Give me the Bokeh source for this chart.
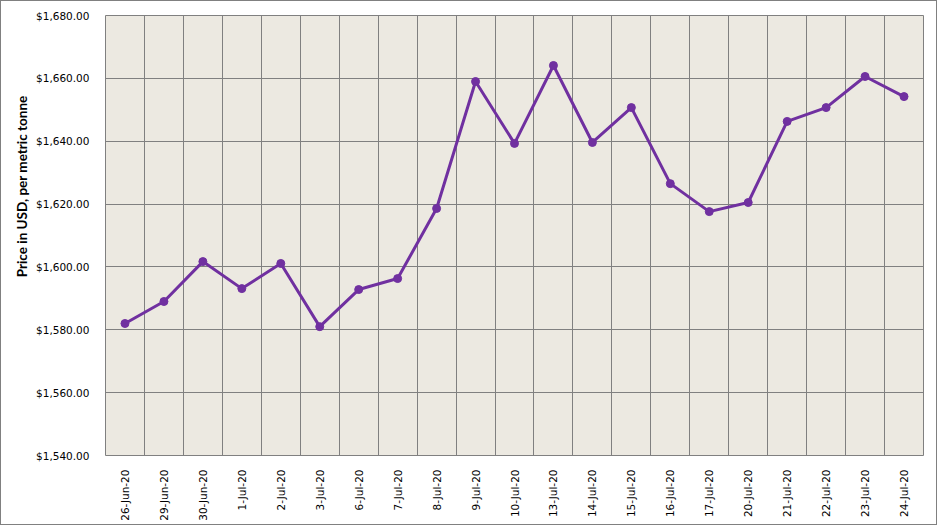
import math
from bokeh.plotting import figure
from bokeh.models import FixedTicker, NumeralTickFormatter, Range1d, Grid, Title
from bokeh.embed import file_html
from bokeh.resources import INLINE

dates = ["26-Jun-20", "29-Jun-20", "30-Jun-20", "1-Jul-20", "2-Jul-20", "3-Jul-20",
         "6-Jul-20", "7-Jul-20", "8-Jul-20", "9-Jul-20", "10-Jul-20", "13-Jul-20",
         "14-Jul-20", "15-Jul-20", "16-Jul-20", "17-Jul-20", "20-Jul-20", "21-Jul-20",
         "22-Jul-20", "23-Jul-20", "24-Jul-20"]
prices = [1582.0, 1589.0, 1601.7, 1593.1, 1601.1, 1581.0, 1592.8, 1596.3, 1618.6,
          1659.0, 1639.3, 1664.1, 1639.6, 1650.7, 1626.5, 1617.6, 1620.5, 1646.3,
          1650.7, 1660.6, 1654.2]
y_ticks = [1540, 1560, 1580, 1600, 1620, 1640, 1660, 1680]

n = len(dates)
xs = [i + 0.5 for i in range(n)]

p = figure(width=937, height=525, output_backend="svg", toolbar_location=None,
           x_range=Range1d(0, n), y_range=Range1d(1540, 1680),
           min_border_left=104, min_border_right=15, min_border_top=14, min_border_bottom=71)
p.styles = {"border": "1px solid #808080"}
p.background_fill_color = "#ECE9E1"
p.border_fill_color = "white"
p.outline_line_color = "#808080"
p.outline_line_width = 1

# axes
p.xaxis.ticker = FixedTicker(ticks=xs)
p.xaxis.major_label_overrides = {x: d for x, d in zip(xs, dates)}
p.xaxis.major_label_orientation = math.pi / 2
p.xaxis.axis_line_color = None
p.xaxis.major_tick_line_color = None
p.xaxis.minor_tick_line_color = None
p.xaxis.major_label_text_font = "DejaVu Sans"
p.xaxis.major_label_text_font_size = "10.5px"
p.xaxis.major_label_text_color = "#000000"
p.xaxis.major_label_standoff = 8

p.yaxis.ticker = FixedTicker(ticks=y_ticks)
p.yaxis.formatter = NumeralTickFormatter(format="$0,0.00")
p.yaxis.axis_line_color = None
p.yaxis.major_tick_line_color = None
p.yaxis.minor_tick_line_color = None
p.yaxis.major_label_text_font = "DejaVu Sans"
p.yaxis.major_label_text_font_size = "10.5px"
p.yaxis.major_label_text_color = "#000000"
p.yaxis.major_label_standoff = 10

# grids
p.xgrid.visible = False
p.add_layout(Grid(dimension=0, ticker=FixedTicker(ticks=list(range(n + 1))),
                  grid_line_color="#808080", grid_line_width=1))
p.ygrid.grid_line_color = "#808080"
p.ygrid.grid_line_width = 1

p.line(xs, prices, line_color="#7030A0", line_width=3)
p.scatter(xs, prices, size=8, fill_color="#7030A0", line_color="#7030A0")

ytitle = Title(text="Price in USD, per metric tonne", align="right", offset=80,
               text_font="Lato", text_font_style="bold", text_font_size="13.5px",
               text_color="#000000", standoff=8)
p.add_layout(ytitle, "left")

open("out.html", "w").write(file_html(p, INLINE))
